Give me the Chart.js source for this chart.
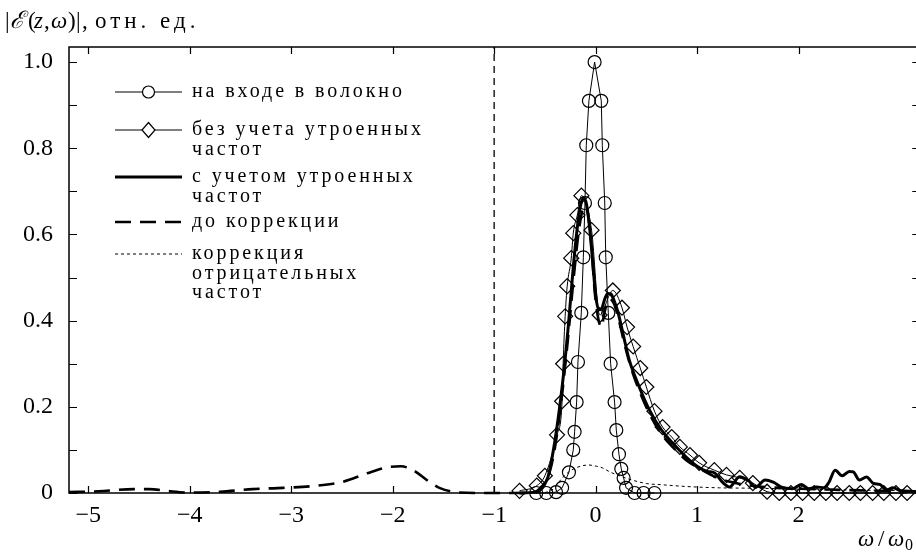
<!DOCTYPE html>
<html><head><meta charset="utf-8">
<script src="https://cdn.jsdelivr.net/npm/chart.js@4.4.1/dist/chart.umd.min.js"></script>
<style>
html,body{margin:0;padding:0;overflow:hidden;background:#fff;}
#wrap{position:relative;width:929px;height:553px;}
</style></head><body>
<div id="wrap"><canvas id="c" width="929" height="553"></canvas></div>
<script>
// ---- data ----
const xTicks = [-5,-4,-3,-2,-1,0,1,2];
const yTicks = [0,0.2,0.4,0.6,0.8,1.0];
const yMinorTicks = [0,0.1,0.2,0.3,0.4,0.5,0.6,0.7,0.8,0.9,1.0];
const xMin = -5.19, xMax = 3.2, yMin = 0, yMax = 1.035;
const cutoffX = -1;

const inputX = [-0.585,-0.486,-0.39,-0.33,-0.263,-0.22,-0.207,-0.187,-0.174,-0.141,-0.121,-0.105,-0.092,-0.066,-0.01,0.056,0.066,0.09,0.10,0.125,0.148,0.187,0.204,0.23,0.253,0.276,0.30,0.384,0.473,0.58];
const inputY = [0,0,0.002,0.012,0.048,0.10,0.142,0.211,0.304,0.418,0.547,0.673,0.807,0.91,1.0,0.91,0.807,0.673,0.547,0.418,0.30,0.211,0.146,0.09,0.056,0.035,0.012,0,0,0];

const noThgX = [-0.75,-0.58,-0.5,-0.38,-0.33,-0.32,-0.30,-0.28,-0.24,-0.22,-0.18,-0.14,-0.04,0.04,0.17,0.26,0.31,0.37,0.44,0.50,0.58,0.66,0.75,0.83,0.93,1.02,1.17,1.29,1.42,1.55,1.69,1.81,1.925,2.04,2.155,2.27,2.38,2.50,2.61,2.73,2.84,2.96,3.07];
const noThgY = [0.005,0.017,0.04,0.135,0.213,0.30,0.41,0.48,0.545,0.603,0.645,0.69,0.61,0.413,0.47,0.43,0.385,0.34,0.29,0.246,0.19,0.153,0.13,0.107,0.088,0.07,0.053,0.042,0.035,0.023,0.003,0,0,0,0,0,0,0,0,0,0,0,0];

const thgX = [-0.75,-0.6,-0.53,-0.47,-0.4,-0.33,-0.27,-0.22,-0.18,-0.15,-0.12,-0.09,-0.06,-0.03,0.0,0.03,0.06,0.09,0.12,0.15,0.18,0.22,0.27,0.33,0.43,0.53,0.65,0.76,0.89,1.0,1.1,1.17,1.25,1.32,1.42,1.5,1.58,1.67,1.75,1.84,1.94,2.03,2.1,2.18,2.25,2.3,2.36,2.43,2.5,2.54,2.6,2.67,2.74,2.8,2.87,2.93,3.0,3.09,3.17];
const thgY = [0,0.002,0.015,0.037,0.123,0.246,0.385,0.524,0.617,0.665,0.685,0.67,0.617,0.54,0.46,0.425,0.428,0.45,0.463,0.462,0.448,0.42,0.37,0.31,0.246,0.193,0.146,0.116,0.084,0.062,0.05,0.047,0.025,0.014,0.038,0.03,0.014,0.03,0.025,0.013,0.01,0.02,0.01,0.014,0.012,0.025,0.053,0.04,0.05,0.049,0.03,0.037,0.022,0.02,0.007,0.012,0.006,0.004,0.003];

const preX = [-5.19,-4.9,-4.55,-4.4,-4.23,-4.0,-3.7,-3.38,-3.08,-2.79,-2.49,-2.25,-2.05,-1.92,-1.8,-1.64,-1.54,-1.34,-1.1,-0.8,-0.6,-0.5,-0.42,-0.35,-0.28,-0.22,-0.17,-0.13,-0.1,-0.07,-0.04,-0.01,0.03,0.06,0.08,0.11,0.14,0.18,0.22,0.28,0.35,0.45,0.55,0.66,0.77,0.9,1.0,1.2,1.4,1.6,1.8,2.0,2.3,2.6,2.9,3.17];
const preY = [0.002,0.004,0.009,0.009,0.005,0.001,0.003,0.009,0.012,0.016,0.026,0.046,0.06,0.062,0.053,0.026,0.012,0.001,0,0,0.002,0.02,0.08,0.19,0.34,0.49,0.6,0.655,0.665,0.64,0.57,0.47,0.4,0.385,0.41,0.44,0.45,0.44,0.41,0.35,0.29,0.226,0.175,0.133,0.104,0.075,0.06,0.035,0.022,0.015,0.012,0.01,0.008,0.006,0.005,0.004];

const corrX = [-0.5,-0.43,-0.32,-0.24,-0.15,-0.07,0.01,0.07,0.14,0.27,0.36,0.5,0.66,0.9,1.22,1.6,2.0,2.5,3.17];
const corrY = [0.001,0.007,0.037,0.053,0.062,0.065,0.062,0.058,0.049,0.037,0.03,0.022,0.019,0.015,0.012,0.011,0.009,0.007,0.005];

const legendLabels = [
  ['на входе в волокно'],
  ['без учета утроенных','частот'],
  ['с учетом утроенных','частот'],
  ['до коррекции'],
  ['коррекция','отрицательных','частот']
];

// ---- helpers ----
const zip = (xs, ys) => xs.map((v, i) => ({x: v, y: ys[i]}));
const SERIF = '"Liberation Serif", "DejaVu Serif", serif';

const decor = {
  id: 'decor',
  afterDraw(chart) {
    const {ctx, chartArea: a, scales: {x, y}} = chart;
    ctx.save();
    ctx.strokeStyle = '#000';
    ctx.fillStyle = '#000';
    ctx.lineWidth = 1.5;
    ctx.setLineDash([]);
    ctx.strokeRect(a.left, a.top, a.right - a.left, a.bottom - a.top);
    ctx.lineWidth = 1.2;
    ctx.beginPath();
    xTicks.forEach(v => {
      const px = Math.round(x.getPixelForValue(v)) + 0.5;
      ctx.moveTo(px, a.top); ctx.lineTo(px, a.top + 7);
      ctx.moveTo(px, a.bottom); ctx.lineTo(px, a.bottom - 7);
    });
    yMinorTicks.forEach(v => {
      const py = Math.round(y.getPixelForValue(v)) + 0.5;
      ctx.moveTo(a.left, py); ctx.lineTo(a.left + 8, py);
      ctx.moveTo(a.right, py); ctx.lineTo(a.right - 8, py);
    });
    ctx.stroke();

    // legend
    const x0 = a.left + 46, x1 = a.left + 113, tx = a.left + 123;
    const rows = [92, 130, 177, 222, 254];
    const lh = 19.5;
    ctx.font = '20px ' + SERIF;
    try { ctx.letterSpacing = '2.9px'; } catch (e) {}
    ctx.textBaseline = 'alphabetic';
    ctx.textAlign = 'left';
    rows.forEach((ry, i) => {
      ctx.save();
      ctx.beginPath();
      if (i === 0 || i === 1) { ctx.lineWidth = 1; }
      if (i === 2) { ctx.lineWidth = 3; }
      if (i === 3) { ctx.lineWidth = 2.6; ctx.setLineDash([16, 9]); }
      if (i === 4) { ctx.lineWidth = 1; ctx.setLineDash([3, 3]); }
      ctx.moveTo(x0, ry); ctx.lineTo(x1, ry);
      ctx.stroke();
      ctx.setLineDash([]);
      ctx.lineWidth = 1.2;
      const cx = (x0 + x1) / 2;
      if (i === 0) {
        ctx.fillStyle = '#fff';
        ctx.beginPath(); ctx.arc(cx, ry, 6, 0, Math.PI * 2); ctx.fill(); ctx.stroke();
      }
      if (i === 1) {
        ctx.fillStyle = '#fff';
        ctx.beginPath();
        ctx.moveTo(cx, ry - 7.5); ctx.lineTo(cx + 6.5, ry); ctx.lineTo(cx, ry + 7.5); ctx.lineTo(cx - 6.5, ry); ctx.closePath();
        ctx.fill(); ctx.stroke();
      }
      ctx.restore();
      legendLabels[i].forEach((t, k) => ctx.fillText(t, tx, ry + 5 + k * lh));
    });
    try { ctx.letterSpacing = '0px'; } catch (e) {}

    // y-axis title (pieces placed like the TeX original)
    const base = 28;
    const N = '23px ' + SERIF, I = 'italic 23px ' + SERIF;
    const put = (t, font, px) => { ctx.font = font; ctx.fillText(t, px, base); };
    put('|', N, 5);
    put('ℰ', 'italic 24px "DejaVu Serif"', 10);
    put('(', N, 28);
    put('z', I, 34);
    put(',', N, 44);
    put('ω', I, 51);
    put(')', N, 68);
    put('|', N, 76);
    put(',', N, 82);
    try { ctx.letterSpacing = '4px'; } catch (e) {}
    put('отн. ед.', N, 95);
    try { ctx.letterSpacing = '0px'; } catch (e) {}

    // x-axis title
    const xb = 546;
    ctx.font = 'italic 23px ' + SERIF; ctx.fillText('ω', 858, xb);
    ctx.font = '23px ' + SERIF; ctx.fillText('/', 878, xb);
    ctx.font = 'italic 23px ' + SERIF; ctx.fillText('ω', 888, xb);
    ctx.font = '16px ' + SERIF; ctx.fillText('0', 905, xb + 4);
    ctx.restore();
  }
};

const lineBase = {showLine: true, pointRadius: 0, borderColor: '#000', fill: false, clip: false};

new Chart(document.getElementById('c'), {
  type: 'scatter',
  data: {
    datasets: [
      Object.assign({}, lineBase, {label: 'на входе в волокно', data: zip(inputX, inputY), borderWidth: 1, tension: 0,
        pointRadius: 6.5, pointStyle: 'circle', pointBorderWidth: 1.2, pointBorderColor: '#000', pointBackgroundColor: 'rgba(255,255,255,0)'}),
      Object.assign({}, lineBase, {label: 'без учета утроенных частот', data: zip(noThgX, noThgY), borderWidth: 1, cubicInterpolationMode: 'monotone',
        pointRadius: 7.5, pointStyle: 'rectRot', pointBorderWidth: 1.2, pointBorderColor: '#000', pointBackgroundColor: 'rgba(255,255,255,0)'}),
      Object.assign({}, lineBase, {label: 'с учетом утроенных частот', data: zip(thgX, thgY), borderWidth: 3, cubicInterpolationMode: 'monotone'}),
      Object.assign({}, lineBase, {label: 'до коррекции', data: zip(preX, preY), borderWidth: 2.6, borderDash: [16, 9], cubicInterpolationMode: 'monotone'}),
      Object.assign({}, lineBase, {label: 'коррекция отрицательных частот', data: zip(corrX, corrY), borderWidth: 1, borderDash: [3, 3], cubicInterpolationMode: 'monotone'}),
      Object.assign({}, lineBase, {label: 'cutoff', data: [{x: cutoffX, y: yMin}, {x: cutoffX, y: yMax}], borderWidth: 1.3, borderDash: [7, 5]})
    ]
  },
  options: {
    responsive: false,
    devicePixelRatio: 1,
    animation: false,
    events: [],
    layout: {padding: {left: 0, right: 0, top: 47, bottom: 0}},
    plugins: {legend: {display: false}, tooltip: {enabled: false}, title: {display: false}},
    scales: {
      x: {
        type: 'linear', min: xMin, max: xMax,
        grid: {display: false, drawTicks: false},
        border: {display: false},
        afterBuildTicks: s => { s.ticks = xTicks.map(v => ({value: v})); },
        afterFit: s => { s.height = 60; s.paddingLeft = 0; s.paddingRight = 0; },
        ticks: {color: '#000', padding: 8, maxRotation: 0, autoSkip: false,
          font: {family: SERIF, size: 24},
          callback: v => v < 0 ? '\u2212' + Math.abs(v) : String(v)}
      },
      y: {
        type: 'linear', min: yMin, max: yMax,
        grid: {display: false, drawTicks: false},
        border: {display: false},
        afterBuildTicks: s => { s.ticks = yTicks.map(v => ({value: v})); },
        afterFit: s => { s.width = 69; s.paddingTop = 0; s.paddingBottom = 0; },
        ticks: {color: '#000', padding: 16, autoSkip: false,
          font: {family: SERIF, size: 24},
          callback: v => v === 0 ? '0' : v.toFixed(1)}
      }
    }
  },
  plugins: [decor]
});
</script>
</body></html>
